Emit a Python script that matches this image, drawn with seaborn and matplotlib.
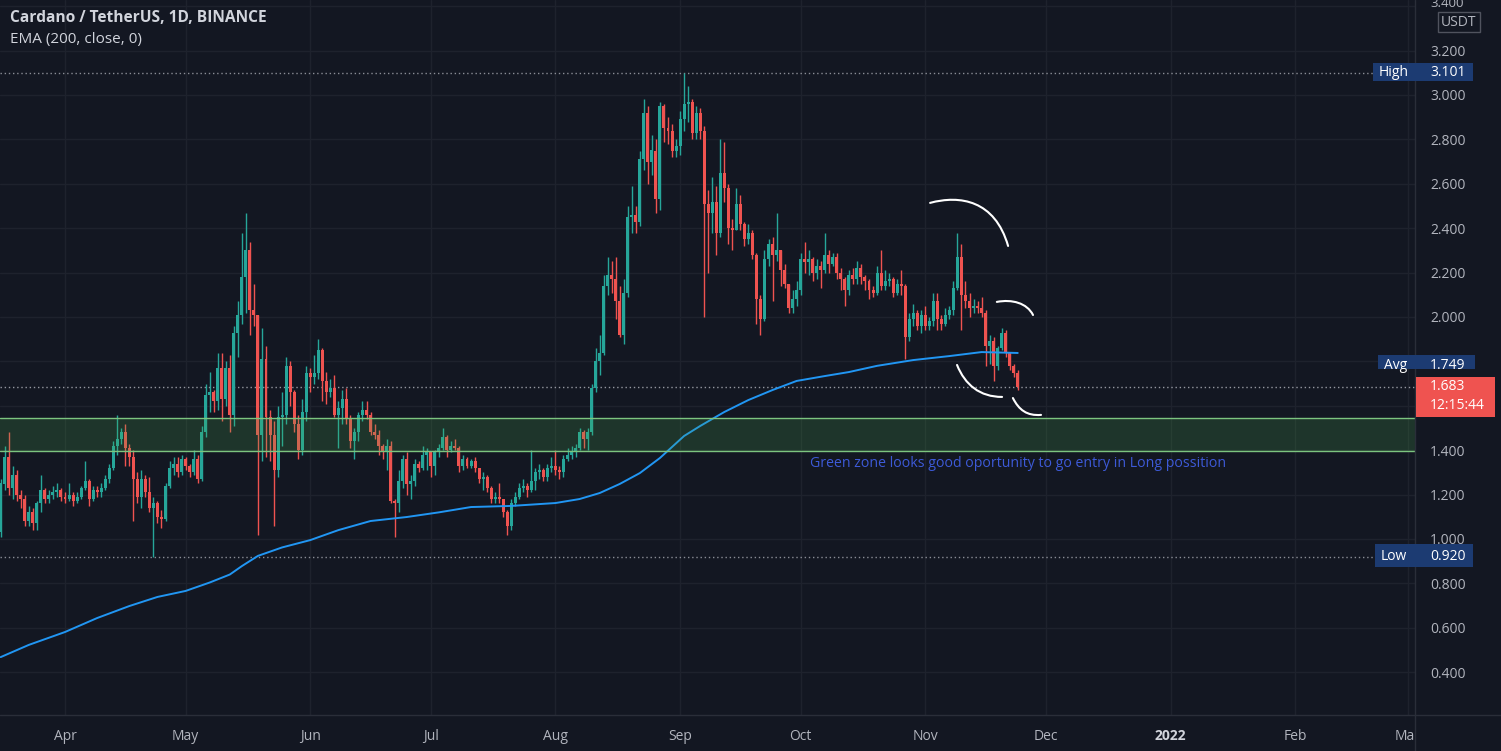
import numpy as np
import pandas as pd
import matplotlib
matplotlib.use("Agg")
import matplotlib.pyplot as plt
import matplotlib.dates as mdates
import matplotlib.transforms as mtrans
from matplotlib.patches import Rectangle, PathPatch
from matplotlib.path import Path
from matplotlib.lines import Line2D
import seaborn as sns

# ---------------- data (ADA/USDT daily) ----------------
start_date = "2021-03-16"
first_open = 1.03

close_mar = [1.25, 1.37, 1.23, 1.29, 1.20, 1.18, 1.08, 1.12, 1.07, 1.16, 1.22, 1.18, 1.20, 1.21, 1.22, 1.19]
high_mar = [1.27, 1.42, 1.48, 1.33, 1.31, 1.22, 1.20, 1.15, 1.14, 1.17, 1.29, 1.23, 1.22, 1.24, 1.25, 1.23]
low_mar = [1.01, 1.22, 1.20, 1.18, 1.17, 1.14, 1.06, 1.06, 1.04, 1.04, 1.12, 1.16, 1.16, 1.18, 1.19, 1.17]

close_apr = [1.18, 1.20, 1.17, 1.19, 1.23, 1.26, 1.18, 1.22, 1.21, 1.23, 1.27, 1.32, 1.42, 1.45, 1.48,
             1.41, 1.37, 1.27, 1.19, 1.27, 1.21, 1.14, 1.16, 1.10, 1.09, 1.24, 1.32, 1.34, 1.30, 1.36]
high_apr = [1.21, 1.25, 1.21, 1.21, 1.24, 1.35, 1.27, 1.24, 1.24, 1.25, 1.29, 1.34, 1.44, 1.56, 1.50,
            1.52, 1.43, 1.40, 1.30, 1.31, 1.29, 1.28, 1.19, 1.17, 1.13, 1.25, 1.35, 1.37, 1.37, 1.38]
low_apr = [1.16, 1.17, 1.15, 1.16, 1.18, 1.22, 1.15, 1.17, 1.19, 1.19, 1.22, 1.25, 1.31, 1.38, 1.43,
           1.33, 1.33, 1.08, 1.16, 1.14, 1.19, 1.12, 0.92, 1.07, 1.05, 1.08, 1.23, 1.29, 1.28, 1.29]

close_may = [1.33, 1.30, 1.36, 1.27, 1.48, 1.65, 1.66, 1.62, 1.77, 1.63, 1.77, 1.56, 1.93, 2.01, 2.18, 2.30,
             2.03, 2.01, 1.47, 1.81, 1.55, 1.47, 1.31, 1.55, 1.56, 1.78, 1.66, 1.52, 1.40, 1.57, 1.75]
high_may = [1.37, 1.34, 1.40, 1.38, 1.51, 1.70, 1.75, 1.67, 1.84, 1.84, 1.80, 1.83, 1.96, 2.07, 2.38, 2.47,
            2.34, 2.15, 2.01, 1.95, 1.87, 1.58, 1.53, 1.60, 1.66, 1.82, 1.80, 1.67, 1.56, 1.63, 1.78]
low_may = [1.31, 1.28, 1.29, 1.25, 1.26, 1.46, 1.57, 1.57, 1.58, 1.53, 1.60, 1.48, 1.51, 1.82, 1.97, 2.02,
           1.92, 1.96, 1.02, 1.35, 1.37, 1.35, 1.06, 1.28, 1.42, 1.52, 1.60, 1.48, 1.36, 1.38, 1.53]

close_jun = [1.73, 1.75, 1.85, 1.71, 1.66, 1.68, 1.56, 1.59, 1.63, 1.54, 1.44, 1.48, 1.56, 1.58, 1.56,
             1.48, 1.47, 1.42, 1.39, 1.42, 1.17, 1.16, 1.26, 1.36, 1.25, 1.26, 1.34, 1.32, 1.38, 1.39]
high_jun = [1.77, 1.83, 1.90, 1.86, 1.75, 1.72, 1.74, 1.62, 1.67, 1.68, 1.56, 1.50, 1.57, 1.62, 1.62,
            1.57, 1.52, 1.49, 1.43, 1.45, 1.44, 1.18, 1.31, 1.38, 1.39, 1.29, 1.36, 1.35, 1.42, 1.41]
low_jun = [1.66, 1.70, 1.72, 1.62, 1.61, 1.64, 1.55, 1.41, 1.52, 1.52, 1.41, 1.36, 1.44, 1.53, 1.54,
           1.47, 1.45, 1.38, 1.36, 1.31, 1.16, 1.01, 1.12, 1.23, 1.20, 1.18, 1.24, 1.30, 1.31, 1.31]

close_jul = [1.33, 1.39, 1.41, 1.46, 1.40, 1.42, 1.41, 1.33, 1.36, 1.33, 1.35, 1.32, 1.27, 1.28, 1.23, 1.18,
             1.19, 1.18, 1.12, 1.06, 1.16, 1.19, 1.23, 1.24, 1.22, 1.26, 1.30, 1.31, 1.28, 1.32, 1.33]
high_jul = [1.39, 1.40, 1.43, 1.50, 1.47, 1.44, 1.45, 1.42, 1.38, 1.37, 1.36, 1.37, 1.32, 1.30, 1.29, 1.24,
            1.21, 1.25, 1.18, 1.13, 1.18, 1.21, 1.25, 1.27, 1.25, 1.40, 1.32, 1.34, 1.32, 1.34, 1.37]
low_jul = [1.28, 1.29, 1.37, 1.40, 1.37, 1.39, 1.40, 1.30, 1.31, 1.32, 1.32, 1.30, 1.25, 1.22, 1.21, 1.16,
           1.16, 1.16, 1.10, 1.02, 1.04, 1.15, 1.18, 1.21, 1.19, 1.21, 1.22, 1.27, 1.26, 1.26, 1.30]

close_aug = [1.31, 1.30, 1.36, 1.38, 1.39, 1.41, 1.48, 1.45, 1.48, 1.68, 1.80, 1.84, 2.14, 2.19, 2.17, 2.07,
             1.92, 2.11, 2.45, 2.46, 2.43, 2.71, 2.92, 2.70, 2.75, 2.53, 2.95, 2.85, 2.84, 2.75, 2.77]
high_aug = [1.40, 1.33, 1.38, 1.41, 1.42, 1.43, 1.50, 1.49, 1.50, 1.70, 1.86, 1.92, 2.19, 2.27, 2.25, 2.27,
            2.14, 2.17, 2.50, 2.59, 2.50, 2.75, 2.98, 2.95, 2.82, 2.80, 2.97, 2.96, 2.90, 2.87, 2.80]
low_aug = [1.29, 1.27, 1.28, 1.35, 1.36, 1.37, 1.40, 1.41, 1.40, 1.47, 1.66, 1.74, 1.83, 2.10, 2.11, 1.99,
           1.91, 1.88, 2.09, 2.38, 2.38, 2.41, 2.66, 2.60, 2.64, 2.47, 2.48, 2.79, 2.78, 2.72, 2.72]

close_sep = [2.89, 2.96, 2.97, 2.83, 2.92, 2.84, 2.51, 2.47, 2.52, 2.38, 2.65, 2.58, 2.40, 2.39, 2.51,
             2.42, 2.35, 2.38, 2.28, 2.08, 1.99, 2.26, 2.33, 2.28, 2.30, 2.21, 2.15, 2.04, 2.08, 2.12]
high_sep = [2.93, 3.10, 3.04, 2.98, 2.95, 2.94, 2.86, 2.57, 2.63, 2.59, 2.80, 2.79, 2.60, 2.44, 2.58,
            2.55, 2.43, 2.42, 2.39, 2.29, 2.10, 2.30, 2.35, 2.36, 2.47, 2.30, 2.24, 2.15, 2.12, 2.16]
low_sep = [2.73, 2.84, 2.88, 2.80, 2.80, 2.80, 2.00, 2.20, 2.38, 2.28, 2.36, 2.52, 2.33, 2.30, 2.39,
           2.39, 2.32, 2.33, 2.26, 1.97, 1.92, 1.98, 2.23, 2.07, 2.25, 2.14, 2.13, 2.02, 2.02, 2.05]

close_oct = [2.26, 2.25, 2.26, 2.20, 2.23, 2.21, 2.28, 2.24, 2.27, 2.20, 2.17, 2.12, 2.19, 2.17, 2.22, 2.18,
             2.16, 2.12, 2.11, 2.20, 2.14, 2.16, 2.17, 2.11, 2.15, 2.14, 1.91, 1.99, 2.02, 1.96, 2.01]
high_oct = [2.29, 2.34, 2.30, 2.27, 2.26, 2.25, 2.38, 2.30, 2.29, 2.29, 2.22, 2.18, 2.21, 2.22, 2.25, 2.24,
            2.19, 2.17, 2.14, 2.23, 2.30, 2.21, 2.20, 2.18, 2.17, 2.21, 2.15, 2.02, 2.06, 2.03, 2.03]
low_oct = [2.10, 2.20, 2.19, 2.16, 2.17, 2.13, 2.20, 2.20, 2.23, 2.17, 2.12, 2.05, 2.10, 2.15, 2.15, 2.15,
           2.12, 2.08, 2.09, 2.10, 2.12, 2.12, 2.14, 2.09, 2.10, 2.10, 1.81, 1.89, 1.96, 1.94, 1.93]

close_nov = [1.96, 1.98, 2.07, 1.99, 1.97, 2.01, 2.03, 2.13, 2.27, 2.10, 2.07, 2.04, 2.05, 2.04, 2.02, 1.87,
             1.89, 1.78, 1.86, 1.93, 1.84, 1.78, 1.75, 1.683]
high_nov = [2.05, 2.00, 2.11, 2.11, 2.01, 2.04, 2.05, 2.16, 2.38, 2.33, 2.16, 2.11, 2.08, 2.07, 2.09, 2.03,
            1.92, 1.91, 1.87, 1.95, 1.94, 1.84, 1.79, 1.76]
low_nov = [1.94, 1.94, 1.96, 1.94, 1.94, 1.96, 1.99, 2.01, 2.12, 1.94, 2.04, 2.00, 2.02, 2.02, 2.00, 1.78,
           1.79, 1.71, 1.76, 1.85, 1.82, 1.76, 1.73, 1.67]

# EMA(200) line, sampled from the chart
ema_dates = ["2021-03-16", "2021-03-23", "2021-04-01", "2021-04-09", "2021-04-17", "2021-04-24",
             "2021-05-01", "2021-05-07", "2021-05-12", "2021-05-15", "2021-05-19", "2021-05-25",
             "2021-06-01", "2021-06-08", "2021-06-16", "2021-06-25", "2021-07-03", "2021-07-11",
             "2021-07-21", "2021-08-01", "2021-08-07", "2021-08-12", "2021-08-17", "2021-08-22",
             "2021-08-27", "2021-09-02", "2021-09-06", "2021-09-12", "2021-09-18", "2021-09-24",
             "2021-09-30", "2021-10-07", "2021-10-13", "2021-10-20", "2021-10-29", "2021-11-07",
             "2021-11-15", "2021-11-24"]
ema_vals = [0.468, 0.523, 0.581, 0.644, 0.698, 0.739,
            0.766, 0.804, 0.840, 0.878, 0.924, 0.962,
            0.995, 1.040, 1.081, 1.099, 1.120, 1.144,
            1.149, 1.162, 1.180, 1.207, 1.248, 1.297,
            1.365, 1.464, 1.509, 1.572, 1.626, 1.671,
            1.712, 1.734, 1.752, 1.780, 1.806, 1.824,
            1.842, 1.838]

zone_low, zone_high = 1.395, 1.545
high_val, low_val, avg_val, last_val = 3.101, 0.920, 1.749, 1.683
countdown = "12:15:44"
price_ticks = [0.4, 0.6, 0.8, 1.0, 1.2, 1.4, 1.6, 1.8, 2.0, 2.2, 2.4, 2.6, 2.8, 3.0, 3.2, 3.4]
hidden_ticks = [1.6, 1.8, 3.4]   # covered by badges / drawn separately at the top edge
month_ticks = ["2021-04-01", "2021-05-01", "2021-06-01", "2021-07-01", "2021-08-01", "2021-09-01",
               "2021-10-01", "2021-11-01", "2021-12-01", "2022-01-01", "2022-02-01", "2022-03-01"]
month_labels = ["Apr", "May", "Jun", "Jul", "Aug", "Sep", "Oct", "Nov", "Dec", "2022", "Feb", "Mar"]

title = "Cardano / TetherUS, 1D, BINANCE"
indicator = "EMA (200, close, 0)"
note = "Green zone looks good oportunity to go entry in Long possition"
note_pos = ("2021-10-03 08:00", 1.342)

# hand-drawn arcs: (days after 2021-04-01, price) bezier control points
arcs = [
    [(215.2, 2.514), (222.6, 2.550), (231.3, 2.527), (234.6, 2.320)],
    [(231.8, 2.068), (235.6, 2.081), (239.3, 2.063), (240.8, 2.009)],
    [(221.9, 1.784), (223.9, 1.694), (227.6, 1.640), (233.1, 1.640)],
    [(235.8, 1.635), (237.3, 1.581), (239.3, 1.554), (242.8, 1.559)],
]

# ---------------- assemble ----------------
close = close_mar + close_apr + close_may + close_jun + close_jul + close_aug + close_sep + close_oct + close_nov
high = high_mar + high_apr + high_may + high_jun + high_jul + high_aug + high_sep + high_oct + high_nov
low = low_mar + low_apr + low_may + low_jun + low_jul + low_aug + low_sep + low_oct + low_nov
assert len(close) == len(high) == len(low)
dates = pd.date_range(start_date, periods=len(close), freq="D")
opens = [first_open] + close[:-1]

o = np.array(opens)
c = np.array(close)
hi = np.maximum(np.array(high), np.maximum(o, c))
lo = np.minimum(np.array(low), np.minimum(o, c))
x = mdates.date2num(dates)

# ---------------- style ----------------
W, H = 1501, 751
BG = "#131722"
GRID = "#1e222d"
TXT = "#b2b5be"
UP, DN = "#26a69a", "#ef5350"
LABEL_BLUE = "#1c3b72"

sns.set_theme(style="dark", rc={"axes.facecolor": BG, "figure.facecolor": BG,
                                "savefig.facecolor": BG, "axes.edgecolor": BG,
                                "grid.color": GRID})
plt.rcParams["font.family"] = ["Open Sans", "DejaVu Sans"]

fig = plt.figure(figsize=(W / 100, H / 100), dpi=100)
PLOT_R, PLOT_B = 1415, 715
ax = fig.add_axes([0, 1 - PLOT_B / H, PLOT_R / W, PLOT_B / H])
ax.set_facecolor(BG)
for s in ax.spines.values():
    s.set_visible(False)

ref = mdates.date2num(pd.Timestamp("2021-04-01"))
px_per_day = 4.02
x0 = ref - 65 / px_per_day
ax.set_xlim(x0, x0 + PLOT_R / px_per_day)
ppd = 222.0
ymax = 3.0 + 95 / ppd
ymin = ymax - PLOT_B / ppd
ax.set_ylim(ymin, ymax)

# grid + ticks
month_nums = mdates.date2num(pd.to_datetime(month_ticks))
ax.set_yticks(price_ticks)
ax.set_yticklabels(["" if v in hidden_ticks else f"{v:.3f}" for v in price_ticks])
ax.set_xticks(month_nums)
ax.set_xticklabels(month_labels)
ax.grid(True, color=GRID, lw=1)
ax.set_axisbelow(True)
ax.yaxis.tick_right()
ax.tick_params(axis="y", length=0, pad=11, labelcolor=TXT, labelsize=10)
ax.tick_params(axis="x", length=0, pad=10, labelcolor=TXT, labelsize=10)
for t in ax.get_xticklabels():
    if t.get_text() == "2022":
        t.set_fontweight("bold")
        t.set_color("#d1d4dc")

# dotted reference lines
dot = (0, (1, 2))
ax.axhline(high_val, xmax=1373 / PLOT_R, color="#8a8d96", lw=1, ls=dot, zorder=2)
ax.axhline(low_val, xmax=1375 / PLOT_R, color="#8a8d96", lw=1, ls=dot, zorder=2)
ax.axhline(last_val, color="#9598a1", lw=1, ls=dot, zorder=2)

# candles
cols = np.where(c >= o, UP, DN)
ax.vlines(x, lo, hi, colors=cols, lw=1, zorder=3)
ax.bar(x, np.maximum(np.abs(c - o), 0.006), bottom=np.minimum(o, c), width=0.74,
       color=cols, linewidth=0, zorder=4)

# EMA
ema_x = mdates.date2num(pd.to_datetime(ema_dates))
sns.lineplot(x=ema_x, y=ema_vals, ax=ax, color="#2196f3", lw=1.4, estimator=None, zorder=5)
ax.set_xlabel("")
ax.set_ylabel("")

# green zone
ax.axhspan(zone_low, zone_high, color="#4caf50", alpha=0.2, lw=0, zorder=6)
ax.axhline(zone_low, color="#7cc47f", lw=1, zorder=6)
ax.axhline(zone_high, color="#7cc47f", lw=1, zorder=6)

ax.text(mdates.date2num(pd.Timestamp(note_pos[0])), note_pos[1], note, color="#3d5ad8",
        fontsize=10.2, va="center", ha="left", zorder=8)

# arcs
for pts in arcs:
    verts = [(ref + d, p) for d, p in pts]
    path = Path(verts, [Path.MOVETO, Path.CURVE4, Path.CURVE4, Path.CURVE4])
    ax.add_patch(PathPatch(path, fill=False, ec="white", lw=1.5, zorder=7, capstyle="round"))

# ---------------- right price-scale labels ----------------
bt = mtrans.blended_transform_factory(fig.transFigure, ax.transData)


def box(x0p, x1p, price, up_px, dn_px, color):
    fig.add_artist(Rectangle((x0p / W, price - dn_px / ppd), (x1p - x0p) / W, (up_px + dn_px) / ppd,
                             transform=bt, facecolor=color, edgecolor="none", zorder=5, clip_on=False))


def label(xp, price, dy_px, s, size=10, color="white"):
    fig.text(xp / W, price + dy_px / ppd, s, transform=bt, va="center", ha="left",
             fontsize=size, color=color, zorder=6)


# top tick label sitting on the upper edge, above the currency badge
label(1430, 3.4, 2.5, f"{3.4:.3f}", size=9.5, color=TXT)

box(1373, 1473, high_val, 9.6, 8.4, LABEL_BLUE)
label(1379, high_val, 0, "High")
label(1430, high_val, 0, f"{high_val:.3f}")

box(1378, 1475, avg_val, 17.7, -3.3, LABEL_BLUE)
label(1384, avg_val, 7.2, "Avg")
label(1430, avg_val, 7.2, f"{avg_val:.3f}")

box(1375, 1473, low_val, 12.8, 10.2, LABEL_BLUE)
label(1381, low_val, 0, "Low")
label(1430, low_val, 0, f"{low_val:.3f}")

box(1416, 1495, last_val, 10.4, 29.6, DN)
label(1430, last_val, 0.5, f"{last_val:.3f}")
label(1430, last_val, -18.5, countdown)

# currency badge
fig.add_artist(Rectangle((1438 / W, 1 - 32 / H), 42 / W, 20 / H, transform=fig.transFigure,
                         facecolor=BG, edgecolor="#50535e", lw=1, zorder=5))
fig.text(1459 / W, 1 - 22 / H, "USDT", ha="center", va="center", fontsize=10, color=TXT, zorder=6)

# cover the time-axis area under the price scale, separators
fig.add_artist(Rectangle((1416 / W, 0), (W - 1416) / W, (H - PLOT_B - 1) / H, transform=fig.transFigure,
                         facecolor=BG, edgecolor="none", zorder=4))
fig.add_artist(Line2D([PLOT_R / W, PLOT_R / W], [0, 1], color="#2a2e39", lw=1, zorder=4))
fig.add_artist(Line2D([0, 1], [1 - PLOT_B / H, 1 - PLOT_B / H], color="#2a2e39", lw=1, zorder=4))

# header
fig.text(10 / W, 1 - 18 / H, title, fontsize=11.2, fontweight="bold", color="#d1d4dc", va="center")
fig.text(10 / W, 1 - 40 / H, indicator, fontsize=11, color="#d1d4dc", va="center")

fig.savefig("out.png", dpi=100, facecolor=BG)
